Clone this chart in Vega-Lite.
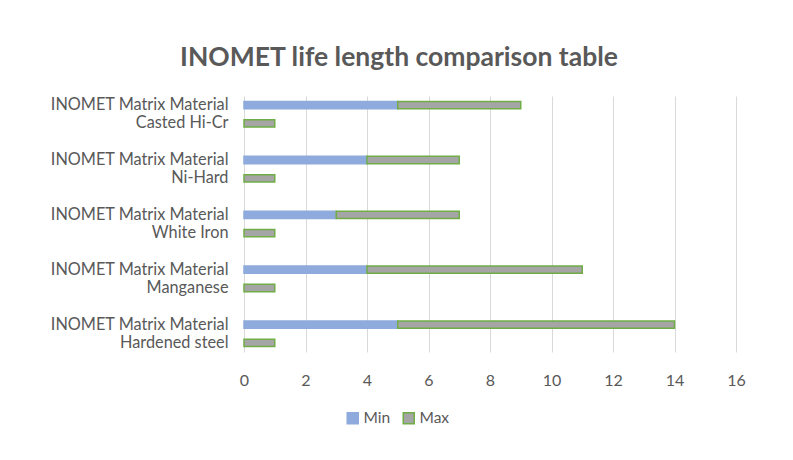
{
  "$schema": "https://vega.github.io/schema/vega-lite/v6.json",
  "width": 492,
  "height": 256,
  "autosize": {"type": "none"},
  "padding": {"left": 244, "top": 96, "right": 57, "bottom": 108},
  "background": "white",
  "title": {
    "text": "INOMET life length comparison table",
    "fontSize": 26.5,
    "fontWeight": "bold",
    "font": "Lato",
    "color": "#595959",
    "anchor": "middle",
    "frame": "group",
    "dx": -91,
    "offset": 25
  },
  "data": {
    "values": [
      {"row": "Casted Hi-Cr|INOMET", "series": "Min", "from": 0, "to": 5},
      {"row": "Casted Hi-Cr|INOMET", "series": "Max", "from": 5, "to": 9},
      {"row": "Casted Hi-Cr|Other", "series": "Max", "from": 0, "to": 1},
      {"row": "Ni-Hard|INOMET", "series": "Min", "from": 0, "to": 4},
      {"row": "Ni-Hard|INOMET", "series": "Max", "from": 4, "to": 7},
      {"row": "Ni-Hard|Other", "series": "Max", "from": 0, "to": 1},
      {"row": "White Iron|INOMET", "series": "Min", "from": 0, "to": 3},
      {"row": "White Iron|INOMET", "series": "Max", "from": 3, "to": 7},
      {"row": "White Iron|Other", "series": "Max", "from": 0, "to": 1},
      {"row": "Manganese|INOMET", "series": "Min", "from": 0, "to": 4},
      {"row": "Manganese|INOMET", "series": "Max", "from": 4, "to": 11},
      {"row": "Manganese|Other", "series": "Max", "from": 0, "to": 1},
      {"row": "Hardened steel|INOMET", "series": "Min", "from": 0, "to": 5},
      {"row": "Hardened steel|INOMET", "series": "Max", "from": 5, "to": 14},
      {"row": "Hardened steel|Other", "series": "Max", "from": 0, "to": 1}
    ]
  },
  "mark": {"type": "bar", "height": {"band": 0.4}, "strokeWidth": 1.5},
  "encoding": {
    "y": {
      "field": "row",
      "type": "nominal",
      "scale": {
        "domain": [
          "Casted Hi-Cr|INOMET", "Casted Hi-Cr|Other", "gap1",
          "Ni-Hard|INOMET", "Ni-Hard|Other", "gap2",
          "White Iron|INOMET", "White Iron|Other", "gap3",
          "Manganese|INOMET", "Manganese|Other", "gap4",
          "Hardened steel|INOMET", "Hardened steel|Other"
        ],
        "paddingInner": 0,
        "paddingOuter": 0
      },
      "axis": {
        "title": null,
        "domain": false,
        "ticks": false,
        "grid": false,
        "labelExpr": "indexof(datum.label, '|') < 0 ? '' : (split(datum.label, '|')[1] == 'INOMET' ? 'INOMET Matrix Material' : split(datum.label, '|')[0])",
        "labelBaseline": "middle",
        "labelPadding": 16,
        "labelFont": "Lato",
        "labelFontSize": 16.3,
        "labelColor": "#595959",
        "labelLimit": 300
      }
    },
    "x": {
      "field": "from",
      "type": "quantitative",
      "scale": {"domain": [0, 16], "nice": false},
      "axis": {
        "title": null,
        "values": [0, 2, 4, 6, 8, 10, 12, 14, 16],
        "domain": false,
        "ticks": false,
        "grid": true,
        "gridColor": "#d9d9d9",
        "gridWidth": 1,
        "labelFlush": false,
        "labelPadding": 20,
        "labelFont": "Lato",
        "labelFontSize": 16,
        "labelColor": "#595959"
      }
    },
    "x2": {"field": "to"},
    "color": {
      "field": "series",
      "type": "nominal",
      "scale": {"domain": ["Min", "Max"], "range": ["#8faadc", "#a5a5a5"]},
      "legend": {
        "title": null,
        "orient": "none",
        "direction": "horizontal",
        "legendX": 101,
        "legendY": 314,
        "symbolType": "square",
        "symbolSize": 121,
        "symbolStrokeWidth": 1.5,
        "columnPadding": 9,
        "labelOffset": 3,
        "labelFont": "Lato",
        "labelFontSize": 15.5,
        "labelColor": "#595959"
      }
    },
    "stroke": {
      "field": "series",
      "type": "nominal",
      "scale": {"domain": ["Min", "Max"], "range": ["#8faadc", "#70ad47"]},
      "legend": {
        "title": null,
        "orient": "none",
        "direction": "horizontal",
        "legendX": 101,
        "legendY": 314,
        "symbolType": "square",
        "symbolSize": 121,
        "symbolStrokeWidth": 1.5,
        "columnPadding": 9,
        "labelOffset": 3,
        "labelFont": "Lato",
        "labelFontSize": 15.5,
        "labelColor": "#595959"
      }
    }
  },
  "config": {"view": {"stroke": null}}
}
